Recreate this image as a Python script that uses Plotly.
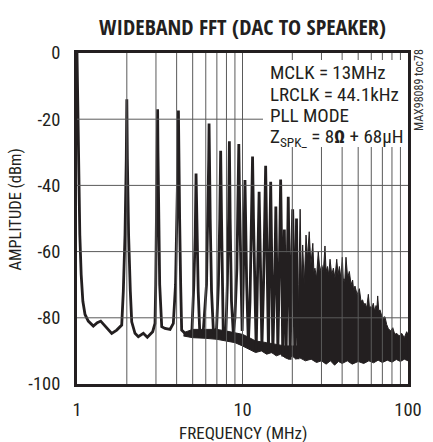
import plotly.graph_objects as go

# ---------------- data ----------------
# Spectrum trace with isolated harmonic spikes, 1 MHz .. ~22 MHz
spec_freq = [
    1.000, 1.012, 1.025, 1.040, 1.060, 1.085, 1.118, 1.170, 1.255, 1.326, 1.391, 1.476, 1.621, 1.738, 1.863,
    1.905, 1.950, 1.985, 2.000, 2.015, 2.050, 2.100, 2.141, 2.241, 2.347, 2.516, 2.660, 2.866, 2.960,
    2.990, 3.020, 3.055, 3.070, 3.085, 3.120, 3.160, 3.250, 3.400, 3.650, 3.820,
    3.940, 4.030, 4.080, 4.100, 4.120, 4.170, 4.230, 4.290, 4.600, 4.940,
    5.080, 5.180, 5.240, 5.300, 5.400, 5.530, 5.800,
    6.060, 6.180, 6.250, 6.280, 6.310, 6.380, 6.500, 6.680, 6.970,
    7.150, 7.290, 7.380, 7.470, 7.580, 7.660, 7.920,
    8.100, 8.240, 8.330, 8.420, 8.580, 8.800,
    9.000, 9.250, 9.400, 9.500, 9.600, 9.760, 9.950,
    10.10, 10.35, 10.60, 10.85,
    11.10, 11.35, 11.50, 11.65, 11.90, 12.10,
    12.35, 12.60, 12.85, 13.10,
    13.40, 13.65, 13.80, 13.95, 14.20, 14.35,
    14.60, 14.80, 15.00, 15.25,
    15.70, 15.90, 16.10, 16.35,
    16.70, 17.00, 17.30, 17.50,
    17.75, 17.90, 18.10, 18.35,
    18.65, 18.90, 19.15, 19.40,
    19.80, 20.10, 20.40, 20.70,
    21.00, 21.20, 21.40, 21.70,
]
spec_db = [
    0, -20, -40, -55, -67, -75, -79, -81, -82.5, -81.5, -81, -82.5, -84.7, -83.7, -82.2,
    -72, -55, -32, -14, -32, -55, -72, -81.2, -84.7, -85.7, -84.7, -85.9, -84.2, -81.7,
    -70, -50, -30, -17, -30, -50, -70, -82.7, -83.2, -83.5, -81.7,
    -70, -50, -30, -17.4, -30, -50, -70, -83.7, -85.2, -84.7,
    -70, -55, -36.4, -55, -72, -85.7, -83.7,
    -70, -50, -32, -21.3, -32, -50, -72, -84.7, -83.2,
    -70, -50, -29.5, -50, -76, -86.2, -85.2,
    -70, -50, -26.7, -50, -75, -84.7,
    -80, -65, -45, -27.5, -45, -65, -84,
    -70, -38.4, -70, -87.7,
    -75, -50, -31.3, -50, -75, -89.7,
    -65, -41.9, -65, -88.7,
    -70, -50, -34.1, -50, -75, -90,
    -60, -38.9, -60, -90.7,
    -65, -46.4, -65, -90,
    -65, -38.2, -65, -91.7,
    -70, -53.3, -70, -90.7,
    -65, -43.4, -65, -92.7,
    -65, -47.2, -65, -92,
    -70, -50, -70, -92.5,
]

# Dense noise mass: upper envelope and lower floor
mass_top_freq = [
    4.40, 5.00, 6.00, 7.00, 8.00, 9.00, 10.0, 11.0, 12.0, 14.0, 16.0, 18.0, 20.0, 21.6,
    21.9, 22.3, 22.7, 23.1, 23.6, 24.2, 24.7, 25.3, 25.9, 26.6, 27.0, 27.4, 28.0, 28.7,
    29.4, 30.1, 30.8, 31.5, 32.0, 32.6, 33.2, 33.8, 34.6, 35.4, 36.2, 37.1, 37.8, 38.5,
    39.3, 40.1, 40.6, 41.1, 41.6, 42.2, 43.2, 44.2, 45.3, 46.3, 47.0, 47.8, 49.3, 50.8,
    52.0, 53.2, 54.1, 55.0, 56.3, 57.6, 58.5, 59.5, 60.6, 61.7, 62.9, 64.1, 64.9, 65.6,
    66.6, 67.7, 70.0, 72.6, 74.3, 76.0, 78.4, 80.9, 83.2, 85.5, 88.5, 91.6, 95.0, 98.2, 100.0,
]
mass_top_db = [
    -84.5, -83.5, -83.5, -83.5, -84.0, -84.5, -85.0, -86.0, -87.0, -87.5, -88.0, -88.5, -88.5, -88.5,
    -70, -47.2, -70, -58, -70, -55, -62, -54, -64, -57.5, -66, -65, -68, -60,
    -66, -64, -66, -58.3, -66, -64.5, -67, -62.3, -67, -65, -68, -62.3, -67, -64.5,
    -68, -61.7, -68, -69, -68, -61.7, -68, -66, -70, -68.6, -72, -70.4, -73, -71.2,
    -75, -74.6, -76, -75.6, -77, -72.9, -77, -76.6, -77, -75.6, -78, -76.3, -77, -73.4,
    -78, -77.6, -80, -79.7, -82, -83.2, -84, -83, -85, -84.7, -85.5, -84.7, -86, -84.2, -85,
]
mass_floor_freq = [
    4.40, 5.00, 6.00, 7.00, 8.00, 9.00, 10.0, 11.0, 12.0, 13.0, 14.0, 15.0, 16.0, 17.0,
    18.0, 19.0, 20.0, 21.0, 22.0, 24.0, 26.0, 28.0, 30.0, 32.0, 34.0, 36.0, 38.0, 40.0,
    43.0, 46.0, 50.0, 54.0, 58.0, 62.0, 66.0, 70.0, 75.0, 80.0, 85.0, 90.0, 95.0, 100.0,
]
mass_floor_db = [
    -85.5, -86.0, -86.2, -86.5, -87.0, -87.5, -88.5, -89.5, -90.5, -90.0, -91.0, -90.5, -91.5, -91.0,
    -92.0, -92.5, -91.5, -92.5, -92.0, -93.0, -92.5, -93.5, -93.0, -94.0, -93.0, -94.3, -93.2, -93.8,
    -93.0, -94.0, -93.2, -93.8, -93.0, -93.6, -92.8, -93.5, -92.8, -93.4, -92.6, -93.2, -92.5, -93.0,
]

x_tick_vals = [1, 10, 100]
x_tick_text = ["1", "10", "100"]
x_grid = [2, 3, 4, 5, 6, 7, 8, 9, 10, 20, 30, 40, 50, 60, 70, 80, 90]
y_tick_vals = [-100, -80, -60, -40, -20, 0]
y_tick_text = ["-100", "-80", "-60", "-40", "-20", "0"]
y_grid = [-80, -60, -40, -20]

title_text = "<b>WIDEBAND FFT (DAC TO SPEAKER)</b>"
x_title = "FREQUENCY (MHz)"
y_title = "AMPLITUDE (dBm)"
info_lines = ["MCLK = 13MHz", "LRCLK = 44.1kHz", "PLL MODE",
              "Z<sub>SPK_</sub> = 8<b>\u03a9</b> + 68\u00b5H"]
side_note = "MAX98089 toc78"

# ---------------- styling ----------------
INK = "#231f20"
GRID = "#5a5a5a"
FONT = "Roboto Condensed, DejaVu Sans Condensed, sans-serif"
TITLE_FONT = "Open Sans Condensed, Roboto Condensed, sans-serif"

W, H = 433, 442
L, R, T, B = 77, 25, 53, 58
PW = W - L - R
PH = H - T - B


def px(xp):
    return (xp - L) / PW


def py(yp):
    return (H - B - yp) / PH


fig = go.Figure()
fig.add_trace(go.Scatter(
    x=mass_top_freq + mass_floor_freq[::-1],
    y=mass_top_db + mass_floor_db[::-1],
    mode="lines", fill="toself", fillcolor=INK,
    line=dict(color=INK, width=1), hoverinfo="skip", showlegend=False))
fig.add_trace(go.Scatter(
    x=spec_freq, y=spec_db, mode="lines",
    line=dict(color=INK, width=2.8), showlegend=False))

shapes = []
for f in x_grid:
    shapes.append(dict(type="line", xref="x", yref="paper", x0=f, x1=f, y0=0, y1=1,
                       line=dict(color=GRID, width=1), layer="above"))
for v in y_grid:
    shapes.append(dict(type="line", xref="paper", yref="y", x0=0, x1=1, y0=v, y1=v,
                       line=dict(color=GRID, width=1), layer="above"))
shapes.append(dict(type="rect", xref="paper", yref="paper",
                   x0=px(263), x1=1, y0=py(147), y1=py(60),
                   fillcolor="white", line=dict(width=0), layer="above"))

annotations = []
line_y = [72.5, 94.5, 115.5, 137]
for txt, yy in zip(info_lines, line_y):
    annotations.append(dict(text=txt, xref="paper", yref="paper", x=px(268), y=py(yy),
                            xanchor="left", yanchor="middle", showarrow=False,
                            font=dict(family=FONT, size=19, color=INK)))
annotations.append(dict(text=side_note, xref="paper", yref="paper", x=px(419), y=py(90),
                        xanchor="center", yanchor="middle", textangle=-90, showarrow=False,
                        font=dict(family=FONT, size=12, color="#333333")))
annotations.append(dict(text=title_text, xref="paper", yref="paper", x=0.5, y=py(26.5),
                        xanchor="center", yanchor="middle", showarrow=False,
                        font=dict(family=TITLE_FONT, size=22, color=INK)))
annotations.append(dict(text=x_title, xref="paper", yref="paper", x=px(243), y=py(433),
                        xanchor="center", yanchor="middle", showarrow=False,
                        font=dict(family=FONT, size=17, color=INK)))
annotations.append(dict(text=y_title, xref="paper", yref="paper", x=px(15), y=py(209.5),
                        xanchor="center", yanchor="middle", textangle=-90, showarrow=False,
                        font=dict(family=FONT, size=16.5, color=INK)))

fig.update_layout(
    width=W, height=H,
    margin=dict(l=L, r=R, t=T, b=B),
    paper_bgcolor="white", plot_bgcolor="white",
    showlegend=False,
    shapes=shapes, annotations=annotations,
    font=dict(family=FONT, color=INK),
)
fig.update_xaxes(type="log", range=[0, 2], tickvals=x_tick_vals, ticktext=x_tick_text,
                 showgrid=False, zeroline=False, ticks="", ticklabelstandoff=7,
                 showline=True, mirror=True, linewidth=3, linecolor=INK, layer="above traces",
                 tickfont=dict(family=FONT, size=18.5, color=INK))
fig.update_yaxes(range=[-100, 0], tickvals=y_tick_vals, ticktext=y_tick_text,
                 showgrid=False, zeroline=False, ticks="", ticklabelstandoff=10,
                 showline=True, mirror=True, linewidth=3, linecolor=INK, layer="above traces",
                 tickfont=dict(family=FONT, size=18.5, color=INK))

fig.write_html("out.html", config={"displayModeBar": False},
               post_script="document.body.style.margin='0';")
